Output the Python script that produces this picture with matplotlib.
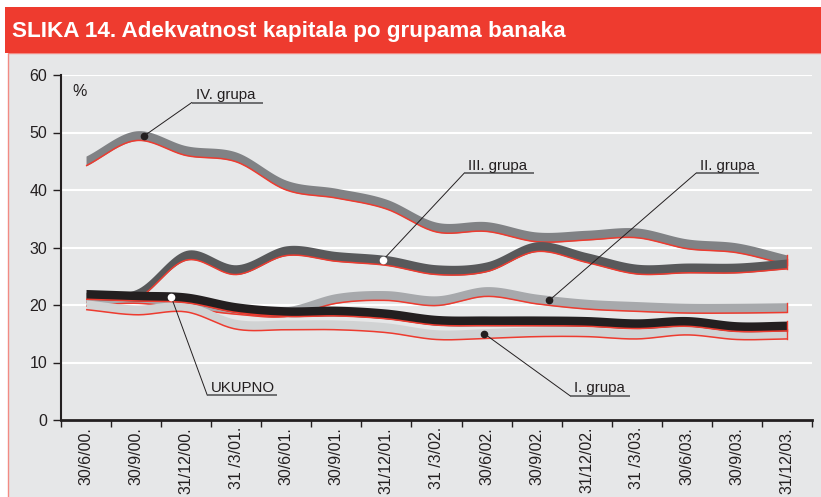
import numpy as np
import matplotlib.pyplot as plt
from matplotlib.patches import Rectangle

periods = ["30/6/00.", "30/9/00.", "31/12/00.", "31 /3/01.", "30/6/01.",
           "30/9/01.", "31/12/01.", "31 /3/02.", "30/6/02.", "30/9/02.",
           "31/12/02.", "31 /3/03.", "30/6/03.", "30/9/03.", "31/12/03."]

grupa_iv = [44.2, 48.6, 46.0, 44.9, 40.0, 38.6, 36.7, 32.7, 32.8, 31.0, 31.3, 31.7, 29.8, 29.1, 27.0]
grupa_iii = [20.5, 21.0, 27.8, 25.3, 28.6, 27.6, 26.9, 25.3, 25.8, 29.3, 27.4, 25.4, 25.6, 25.6, 26.3]
grupa_ii = [19.8, 20.3, 19.4, 18.4, 18.0, 20.3, 20.8, 19.9, 21.5, 20.2, 19.3, 18.9, 18.6, 18.6, 18.7]
grupa_i = [19.2, 18.3, 18.8, 15.8, 15.7, 15.7, 15.2, 14.0, 14.2, 14.5, 14.5, 14.1, 14.8, 14.0, 14.1]
ukupno = [21.0, 20.7, 20.4, 18.7, 18.0, 18.1, 17.6, 16.5, 16.4, 16.4, 16.3, 15.9, 16.3, 15.4, 15.5]

RED = "#ee3b2f"
INK = "#231f20"
PANEL = "#e6e7e8"
BAND = 1.7  # vertical thickness of the ribbon, in %


def smooth(y, n=20):
    # Catmull-Rom through the points, only for drawing
    y = np.asarray(y, float)
    p = np.concatenate([[2 * y[0] - y[1]], y, [2 * y[-1] - y[-2]]])
    xs, ys = [], []
    t = np.linspace(0, 1, n, endpoint=False)
    for i in range(len(y) - 1):
        p0, p1, p2, p3 = p[i], p[i + 1], p[i + 2], p[i + 3]
        ys.append(0.5 * (2 * p1 + (-p0 + p2) * t + (2 * p0 - 5 * p1 + 4 * p2 - p3) * t ** 2
                         + (-p0 + 3 * p1 - 3 * p2 + p3) * t ** 3))
        xs.append(i + t)
    xs.append([len(y) - 1])
    ys.append([y[-1]])
    return np.concatenate(xs), np.concatenate(ys)


plt.rcParams["font.family"] = ["Liberation Sans", "DejaVu Sans"]

fig = plt.figure(figsize=(8.21, 4.97), dpi=100)
fig.patch.set_facecolor("white")
W, H = 821, 497
fig.patches.append(Rectangle((8 / W, -0.01), 1, (H - 53) / H + 0.01, transform=fig.transFigure,
                             facecolor=PANEL, edgecolor="#f28b84", lw=1.0, zorder=-10))
fig.patches.append(Rectangle((5 / W, (H - 53) / H), 1, 46 / H, transform=fig.transFigure,
                             facecolor=RED, edgecolor="none", zorder=-9))
fig.text(12 / W, (H - 31) / H, "SLIKA 14. Adekvatnost kapitala po grupama banaka",
         color="white", fontsize=16.2, fontweight="bold", va="center", ha="left")

ax = fig.add_axes([61 / W, (H - 420) / H, (812 - 61) / W, (420 - 75) / H])
ax.set_facecolor(PANEL)
ax.set_xlim(-0.5, len(periods) - 0.5)
ax.set_ylim(0, 60)
ax.set_yticks(range(0, 61, 10))
ax.yaxis.grid(True, color="white", lw=1.5)
ax.set_axisbelow(True)
for s in ["top", "right"]:
    ax.spines[s].set_visible(False)
ax.spines["left"].set_linewidth(1.5)
ax.spines["bottom"].set_linewidth(2.0)
ax.spines["left"].set_color(INK)
ax.spines["bottom"].set_color(INK)
ax.tick_params(axis="y", length=6, width=1.0, color=INK, labelsize=11.5, labelcolor=INK, pad=4)

ax.set_xticks(np.arange(-0.5, len(periods), 1.0))
ax.set_xticklabels([])
ax.set_xticks(np.arange(len(periods)), minor=True)
ax.set_xticklabels(periods, minor=True, rotation=90, fontsize=11.5, color=INK)
ax.tick_params(axis="x", which="major", length=5, width=1.0, color=INK)
ax.tick_params(axis="x", which="minor", length=0, pad=5)

series = [
    (grupa_iv, "#808285"),
    (grupa_iii, "#58595b"),
    (grupa_ii, "#a7a9ac"),
    (grupa_i, "#d1d3d4"),
    (ukupno, INK),
]
curves = {}
for k, (vals, col) in enumerate(series):
    xs, ys = smooth(vals)
    curves[k] = (xs, ys)
    z = 3 + k
    ax.fill_between(xs, ys, ys + BAND, color=col, lw=0, zorder=z)
    ax.plot(xs, ys, color=RED, lw=1.1, zorder=z + 0.1, solid_capstyle="butt")
    ax.plot([xs[-1], xs[-1]], [ys[-1], ys[-1] + BAND], color=RED, lw=1.0, zorder=z + 0.1)

# labels: text, series index, anchor x, underline (x0, x1, y), dot colour
labels = [
    ("IV. grupa", 0, 1.16, (2.11, 3.53, 55.2), INK),
    ("III. grupa", 1, 5.93, (7.55, 8.95, 42.9), "white"),
    ("II. grupa", 2, 9.25, (12.18, 13.44, 42.9), INK),
    ("I. grupa", 3, 7.95, (9.67, 10.86, 4.2), INK),
    ("UKUPNO", 4, 1.70, (2.42, 3.81, 4.35), "white"),
]
for text, k, ax_x, (u0, u1, uy), dot in labels:
    xs, ys = curves[k]
    ay = np.interp(ax_x, xs, ys) + BAND / 2
    ax.plot([u0, ax_x], [uy, ay], color=INK, lw=0.7, zorder=10)
    ax.plot([u0, u1], [uy, uy], color="#58595b", lw=1.2, zorder=10, solid_capstyle="butt")
    ax.plot([ax_x], [ay], "o", ms=4.5, mfc=dot, mec=dot, zorder=11)
    ax.text(u0 + 0.08, uy + 0.6, text, fontsize=10.8, color=INK, ha="left", va="baseline", zorder=11)

ax.text(-0.12, 57.2, "%", fontsize=11.5, color=INK, ha="center", va="center")

fig.savefig("out.png", dpi=100, facecolor=fig.get_facecolor())
